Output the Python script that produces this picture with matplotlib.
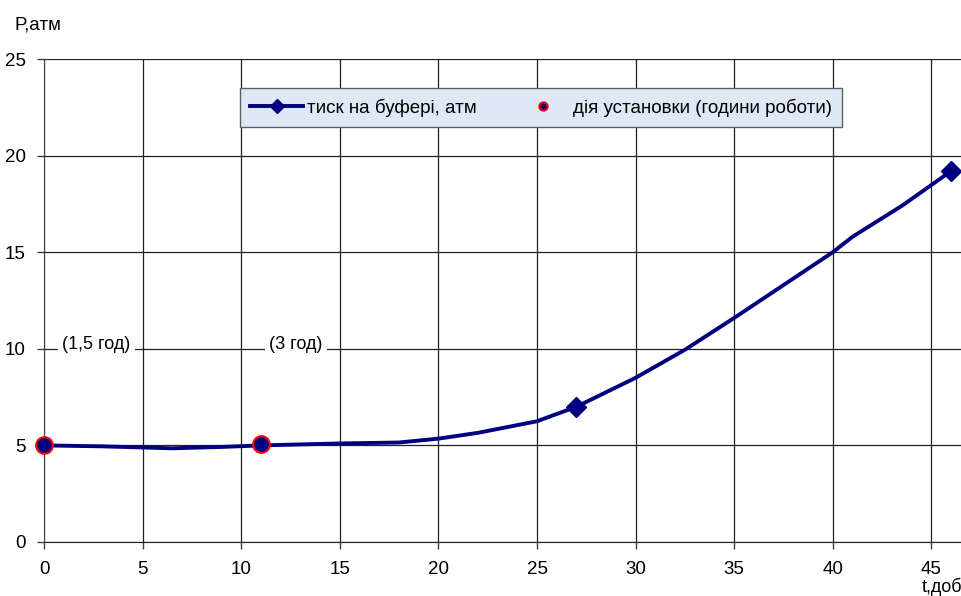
import matplotlib
matplotlib.use("Agg")
import matplotlib.pyplot as plt
from matplotlib.lines import Line2D

plt.rcParams['font.family'] = ['Liberation Sans', 'DejaVu Sans']

# pressure curve (smoothed line readings)
curve_t = [0, 3, 6.5, 9, 11, 15, 18, 20, 22, 25, 27, 30, 32.5, 35, 37.5, 40, 41, 43.5, 46]
curve_p = [5.0, 4.95, 4.85, 4.92, 5.0, 5.1, 5.15, 5.35, 5.65, 6.25, 7.0, 8.5, 9.95, 11.6, 13.3, 15.0, 15.8, 17.4, 19.2]
# marked points on the pressure curve
marker_t = [27, 46]
marker_p = [7.0, 19.2]
# installation operation points
action_t = [0, 11]
action_p = [5.0, 5.05]
action_labels = ["(1,5 год)", "(3 год)"]
action_label_t = [2.66, 12.77]
action_label_p = [10.2, 10.2]

xticks = [0, 5, 10, 15, 20, 25, 30, 35, 40, 45]
yticks = [0, 5, 10, 15, 20, 25]

navy = "#000080"

fig = plt.figure(figsize=(9.61, 5.96), dpi=100)
ax = fig.add_axes([44/961, 1 - 542/596, 1 - 44/961, (542 - 59)/596])

ax.plot(curve_t, curve_p, color=navy, lw=2.8, solid_joinstyle='round', zorder=3)
ax.plot(marker_t, marker_p, linestyle='none', marker='D', markersize=10,
        color=navy, zorder=4)
ax.plot(action_t, action_p, linestyle='none', marker='o', markersize=12,
        markerfacecolor=navy, markeredgecolor='red', markeredgewidth=1.5, zorder=5,
        clip_on=False)

for lab, tx, ty in zip(action_labels, action_label_t, action_label_p):
    ax.text(tx, ty, lab, fontsize=13, ha='center', va='center', zorder=6,
            bbox=dict(facecolor='white', edgecolor='none', pad=3))

ax.set_xlim(0, 46.5)
ax.set_ylim(0, 25)
ax.set_xticks(xticks)
ax.set_yticks(yticks)
ax.tick_params(axis='both', labelsize=13.5, direction='out', length=5, width=1,
               color='#404040')
ax.tick_params(axis='x', pad=9)
ax.tick_params(axis='y', pad=8)
ax.grid(True, color='#202020', lw=0.9)
for side in ['top', 'right']:
    ax.spines[side].set_visible(False)
ax.spines['left'].set_color('#404040')
ax.spines['bottom'].set_color('#202020')

fig.text(15/961, 1 - 25/596, "P,атм", fontsize=13.5, va='center', ha='left')
fig.text(922/961, 1 - 587/596, "t,доби", fontsize=13, va='center', ha='left')

handles = [
    Line2D([0], [0], color=navy, lw=2.8, marker='D', markersize=7),
    Line2D([0], [0], linestyle='none', marker='o', markersize=6,
           markerfacecolor=navy, markeredgecolor='red', markeredgewidth=1.5),
]
x0 = (240 - 44) / 917
w = (842 - 240) / 917
ytop = 1 - (88 - 59) / 483
leg = ax.legend(handles, ["тиск на буфері, атм", "дія установки (години роботи)"],
                loc='upper left', bbox_to_anchor=(x0, 0, w, ytop), mode='expand',
                borderaxespad=0, ncol=2, fontsize=13.5, frameon=True, fancybox=False,
                handlelength=2.8, handletextpad=0.2, columnspacing=1.0, borderpad=0.55)
leg.get_frame().set_facecolor('#dfe9f5')
leg.get_frame().set_edgecolor('#606060')
leg.get_frame().set_alpha(1)
leg.set_zorder(10)

fig.savefig("out.png", dpi=100)
